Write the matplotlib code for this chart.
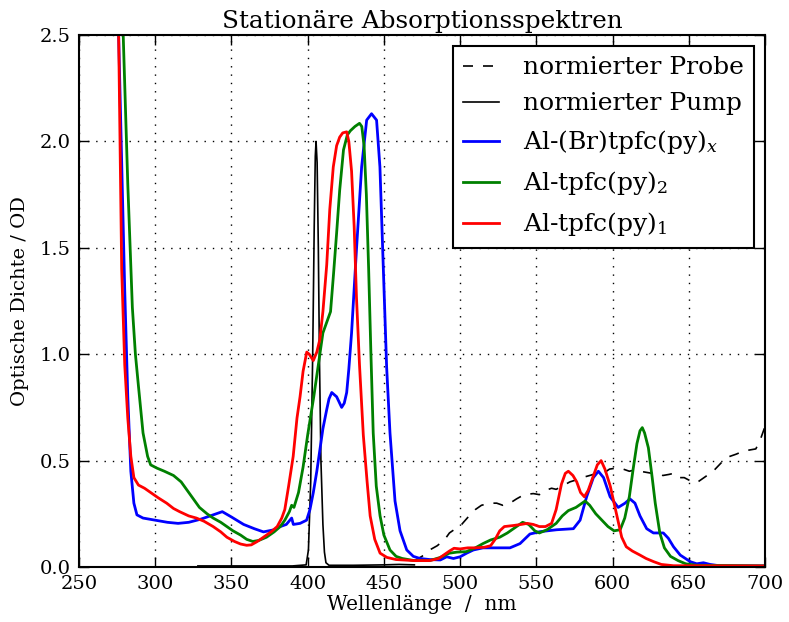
import matplotlib
matplotlib.use("Agg")
import matplotlib.pyplot as plt

plt.rcParams['font.family'] = ['DejaVu Serif']
plt.rcParams['mathtext.fontset'] = 'dejavuserif'

# ---------------- data ----------------
blue_x = [272, 274, 276, 278, 280, 282, 284, 286, 288, 292, 300, 308, 315, 322, 330, 338, 344,
          350, 358, 365, 371, 378, 382, 386, 389.5, 390.6, 395, 399.3, 401.5, 403.7, 406, 408,
          410, 412.5, 414, 415.8, 419, 422.3, 424, 425.6, 427, 428.8, 432, 435.4, 438.7, 441.9,
          445.2, 447.4, 449.6, 451.8, 454, 457.3, 460.6, 465, 469.3, 473.7, 480, 487, 491.2,
          495.6, 500, 504.3, 508.7, 515, 525, 532.7, 539.3, 545.8, 552.4, 563.3, 574.3, 578.7,
          583, 587.4, 590.7, 594.1, 598.4, 603.7, 608.2, 611.4, 614.7, 618, 622.4, 626.8, 633.3,
          636.6, 640, 644.4, 651, 655.2, 659.6, 664, 670, 700]
blue_y = [3.5, 3.0, 2.5, 1.9, 1.3, 0.8, 0.45, 0.3, 0.245, 0.23, 0.22, 0.21, 0.205, 0.21, 0.225,
          0.245, 0.26, 0.235, 0.2, 0.18, 0.165, 0.175, 0.19, 0.2, 0.23, 0.2, 0.205, 0.22, 0.27,
          0.35, 0.45, 0.55, 0.65, 0.74, 0.79, 0.82, 0.8, 0.75, 0.77, 0.82, 0.93, 1.1, 1.49, 1.88,
          2.1, 2.13, 2.1, 1.88, 1.41, 0.94, 0.63, 0.31, 0.17, 0.08, 0.05, 0.04, 0.035, 0.033,
          0.048, 0.04, 0.048, 0.065, 0.08, 0.09, 0.09, 0.09, 0.11, 0.155, 0.166, 0.175, 0.18,
          0.22, 0.33, 0.42, 0.45, 0.42, 0.33, 0.28, 0.3, 0.32, 0.3, 0.24, 0.18, 0.16, 0.16, 0.135,
          0.095, 0.056, 0.025, 0.015, 0.02, 0.012, 0.006, 0.005]

green_x = [277, 279, 282, 285, 287, 289, 292, 295, 297, 301, 306, 312, 317, 321, 325, 329, 334,
           338, 343, 347, 351, 356, 360, 364, 368, 373, 378, 382, 385, 388, 389.5, 391, 394, 397,
           400, 404, 407, 410, 413, 415, 417, 419, 421, 423.5, 426, 428, 431, 434, 435.5, 437,
           438.5, 440, 441.5, 443, 445, 447.5, 450, 454, 458, 462, 470, 480, 487, 493, 498, 504,
           510, 515, 520, 526, 531, 536, 541, 545, 549, 552, 557, 563, 567, 571, 576, 580, 582,
           585, 589, 593, 597, 601, 605, 608, 611, 613.5, 616, 618, 619.5, 621, 623.5, 626, 628,
           631, 634, 638, 643, 648, 655, 700]
green_y = [3.0, 2.5, 1.8, 1.22, 1.0, 0.85, 0.63, 0.52, 0.48, 0.465, 0.45, 0.43, 0.4, 0.36, 0.32,
           0.28, 0.25, 0.23, 0.21, 0.19, 0.17, 0.15, 0.13, 0.12, 0.125, 0.14, 0.165, 0.19, 0.22,
           0.26, 0.29, 0.28, 0.35, 0.47, 0.62, 0.8, 0.95, 1.1, 1.16, 1.2, 1.38, 1.57, 1.77, 1.96,
           2.03, 2.05, 2.07, 2.085, 2.07, 1.98, 1.75, 1.4, 1.0, 0.63, 0.38, 0.24, 0.15, 0.08,
           0.05, 0.04, 0.03, 0.03, 0.045, 0.065, 0.07, 0.072, 0.09, 0.11, 0.127, 0.14, 0.16,
           0.185, 0.21, 0.2, 0.17, 0.16, 0.175, 0.205, 0.24, 0.265, 0.28, 0.3, 0.31, 0.29, 0.25,
           0.22, 0.19, 0.17, 0.175, 0.23, 0.33, 0.46, 0.58, 0.64, 0.655, 0.63, 0.56, 0.42, 0.3,
           0.16, 0.09, 0.05, 0.03, 0.015, 0.008, 0.005]

red_x = [273, 276, 278, 280, 282, 284, 286, 289, 293, 297, 302, 307.5, 312, 316, 322, 327, 332,
         338, 343, 347, 352, 356, 360, 363, 367, 371, 376, 380, 383, 385, 387.5, 390.5, 393, 395,
         397, 399.4, 401, 403.7, 406, 408, 410, 412.5, 414.5, 416.8, 419, 421, 423, 425.6, 427,
         428.8, 430.5, 432, 434, 436.5, 439, 441, 444, 447.5, 452, 458, 470, 480, 486, 490, 493,
         496, 500, 505, 510, 516, 520, 523, 526, 529, 535, 540, 544, 548, 552, 556, 560, 563,
         566.5, 569, 571, 574, 576.5, 579, 581.5, 584, 587.5, 590, 592.5, 595, 598.5, 601, 603.5,
         606, 609, 613, 618, 622, 627, 632, 640, 700]
red_y = [3.5, 2.5, 1.4, 0.95, 0.7, 0.52, 0.42, 0.385, 0.37, 0.35, 0.325, 0.3, 0.275, 0.26, 0.24,
         0.23, 0.215, 0.19, 0.165, 0.14, 0.12, 0.108, 0.102, 0.104, 0.12, 0.14, 0.165, 0.19, 0.23,
         0.27, 0.38, 0.52, 0.7, 0.8, 0.92, 1.01, 1.0, 0.97, 1.01, 1.07, 1.2, 1.42, 1.68, 1.88,
         1.98, 2.02, 2.04, 2.045, 2.0, 1.86, 1.6, 1.27, 0.95, 0.62, 0.4, 0.24, 0.13, 0.065, 0.045,
         0.035, 0.03, 0.03, 0.04, 0.06, 0.075, 0.088, 0.085, 0.09, 0.09, 0.093, 0.1, 0.13, 0.17,
         0.19, 0.195, 0.2, 0.205, 0.2, 0.19, 0.19, 0.205, 0.27, 0.39, 0.44, 0.45, 0.43, 0.4, 0.35,
         0.33, 0.36, 0.43, 0.48, 0.5, 0.46, 0.38, 0.3, 0.22, 0.14, 0.095, 0.075, 0.056, 0.04,
         0.025, 0.012, 0.006, 0.005]

probe_x = [470, 475, 480, 485, 490, 493, 497, 501, 506.5, 510, 514, 519.6, 524, 528, 532.7, 537,
           542, 548, 552, 556, 560, 563, 567, 572, 576.5, 580, 585, 589.6, 594, 598, 602.7, 607,
           611, 614, 618, 622, 626, 629, 633, 637, 640, 643, 647, 651, 655, 658, 662, 666, 670,
           674, 677, 681, 686, 690, 694, 697, 700]
probe_y = [0.03, 0.05, 0.08, 0.1, 0.13, 0.16, 0.18, 0.2, 0.245, 0.27, 0.29, 0.3, 0.3, 0.29, 0.3,
           0.32, 0.34, 0.345, 0.34, 0.36, 0.37, 0.365, 0.38, 0.4, 0.41, 0.42, 0.43, 0.44, 0.44,
           0.46, 0.465, 0.46, 0.45, 0.455, 0.45, 0.445, 0.44, 0.445, 0.43, 0.435, 0.44, 0.42,
           0.42, 0.405, 0.395, 0.41, 0.43, 0.45, 0.48, 0.51, 0.52, 0.53, 0.545, 0.55, 0.555, 0.6,
           0.66]

pump_x = [328, 360, 390, 399, 400.5, 402, 403.3, 404.3, 405, 405.5, 406.2, 407, 407.7, 408.7,
          410, 411, 412, 414, 430, 450, 460, 470]
pump_y = [0.005, 0.005, 0.005, 0.01, 0.08, 0.4, 1.0, 1.6, 1.93, 2.0, 1.9, 1.5, 1.0, 0.5, 0.2,
          0.07, 0.02, 0.008, 0.008, 0.01, 0.012, 0.01]

labels = ['normierter Probe', 'normierter Pump', r'Al-(Br)tpfc(py)$_x$',
          r'Al-tpfc(py)$_2$', r'Al-tpfc(py)$_1$']
x_ticks = [250, 300, 350, 400, 450, 500, 550, 600, 650, 700]
y_ticks = [0.0, 0.5, 1.0, 1.5, 2.0, 2.5]

# ---------------- plot ----------------
fig = plt.figure(figsize=(7.89, 6.22), dpi=100)
ax = fig.add_axes([79 / 789, 55 / 622, 686 / 789, 532 / 622])

ax.plot(probe_x, probe_y, color='black', lw=1.2, dashes=(6, 6), label=labels[0])
ax.plot(pump_x, pump_y, color='black', lw=1.2, label=labels[1])
ax.plot(blue_x, blue_y, color=(0, 0, 1), lw=2, label=labels[2])
ax.plot(green_x, green_y, color=(0, 0.5, 0), lw=2, label=labels[3])
ax.plot(red_x, red_y, color=(1, 0, 0), lw=2, label=labels[4])

ax.set_xlim(250, 700)
ax.set_ylim(0, 2.5)
ax.set_xticks(x_ticks)
ax.set_yticks(y_ticks)
ax.set_yticklabels([f"{v:.1f}" for v in y_ticks])
ax.tick_params(direction='in', top=True, right=True, length=7, width=1, labelsize=14, pad=6)
ax.grid(True, color='black', linestyle=(0, (1, 5)), linewidth=1)
for s in ax.spines.values():
    s.set_linewidth(1.5)

ax.set_title('Stationäre Absorptionsspektren', fontsize=17.8, pad=5)
ax.set_xlabel('Wellenlänge  /  nm', fontsize=14.5, labelpad=1)
ax.set_ylabel('Optische Dichte / OD', fontsize=14, labelpad=8)

leg = ax.legend(loc='upper right', fontsize=18, fancybox=False, framealpha=1,
                edgecolor='black', handlelength=1.45, handletextpad=0.95,
                borderaxespad=0.45, labelspacing=0.52)
leg.get_frame().set_linewidth(1.5)

fig.savefig('out.png', dpi=100)
